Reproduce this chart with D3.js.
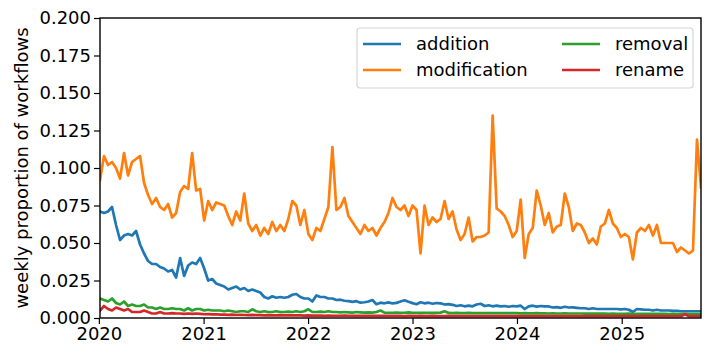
<!DOCTYPE html>
<html>
<head>
<meta charset="utf-8">
<script src="https://cdn.jsdelivr.net/npm/d3@7"></script>
<style>
  body { margin: 0; background: #fff; }
  svg text { font-family: "DejaVu Sans", sans-serif; fill: #000; }
</style>
</head>
<body>
<script>
// biweekly samples, first one on 2020-01-05
const startDate = '2020-01-05';
const stepDays = 14;

const addition = [
  0.071, 0.070, 0.071, 0.074, 0.062, 0.052, 0.055, 0.056, 0.055, 0.058,
  0.049, 0.043, 0.038, 0.036, 0.036, 0.034, 0.033, 0.031, 0.032, 0.027,
  0.040, 0.028, 0.035, 0.037, 0.036, 0.040, 0.033, 0.025, 0.026, 0.023,
  0.022, 0.021, 0.019, 0.020, 0.021, 0.019, 0.020, 0.018, 0.019, 0.018,
  0.017, 0.014, 0.013, 0.0145, 0.0135, 0.014, 0.0135, 0.014, 0.0155, 0.016,
  0.014, 0.013, 0.013, 0.011, 0.015, 0.014, 0.014, 0.013, 0.013, 0.012,
  0.0122, 0.0115, 0.0112, 0.0108, 0.0112, 0.0102, 0.0105, 0.011, 0.012, 0.0092,
  0.0102, 0.0098, 0.0104, 0.0097, 0.0101, 0.011, 0.0118, 0.0108, 0.0099, 0.0092,
  0.0105, 0.0098, 0.0102, 0.0095, 0.010, 0.0098, 0.009, 0.0093, 0.0088, 0.008,
  0.0085, 0.0078, 0.0082, 0.0078, 0.009, 0.0095, 0.008, 0.0085, 0.0078, 0.0082,
  0.0078, 0.008, 0.0075, 0.008, 0.0078, 0.0082, 0.006, 0.0078, 0.0082, 0.0076,
  0.008, 0.0078, 0.0077, 0.007, 0.0072, 0.0068, 0.0075, 0.007, 0.0071, 0.0068,
  0.0065, 0.0065, 0.006, 0.0065, 0.006, 0.006, 0.006, 0.006, 0.006, 0.006,
  0.0058, 0.006, 0.0055, 0.004, 0.006, 0.0058, 0.0055, 0.0055, 0.005, 0.0055,
  0.005, 0.005, 0.005, 0.0048, 0.0048, 0.0045, 0.0045, 0.0045, 0.0045, 0.0045,
  0.0045
];

const modification = [
  0.092, 0.108, 0.102, 0.104, 0.100, 0.093, 0.110, 0.095, 0.104, 0.106,
  0.108, 0.090, 0.082, 0.076, 0.080, 0.074, 0.072, 0.076, 0.067, 0.070,
  0.084, 0.088, 0.086, 0.110, 0.085, 0.086, 0.065, 0.078, 0.072, 0.077,
  0.076, 0.075, 0.068, 0.062, 0.071, 0.065, 0.083, 0.063, 0.058, 0.062,
  0.055, 0.060, 0.056, 0.064, 0.058, 0.062, 0.058, 0.066, 0.078, 0.075,
  0.062, 0.072, 0.056, 0.052, 0.060, 0.058, 0.066, 0.074, 0.114, 0.072,
  0.074, 0.080, 0.068, 0.064, 0.060, 0.056, 0.062, 0.058, 0.060, 0.055,
  0.060, 0.064, 0.070, 0.080, 0.074, 0.072, 0.075, 0.068, 0.075, 0.072,
  0.043, 0.075, 0.062, 0.067, 0.064, 0.066, 0.078, 0.066, 0.071, 0.059,
  0.052, 0.056, 0.067, 0.051, 0.054, 0.054, 0.055, 0.057, 0.135, 0.073,
  0.071, 0.068, 0.062, 0.054, 0.058, 0.079, 0.040, 0.056, 0.060, 0.085,
  0.075, 0.062, 0.070, 0.057, 0.061, 0.062, 0.083, 0.074, 0.058, 0.063,
  0.062, 0.057, 0.050, 0.053, 0.049, 0.061, 0.063, 0.072, 0.063, 0.060,
  0.054, 0.056, 0.054, 0.039, 0.057, 0.060, 0.058, 0.062, 0.055, 0.062,
  0.050, 0.050, 0.050, 0.050, 0.044, 0.047, 0.045, 0.043, 0.045, 0.119,
  0.087
];

const removal = [
  0.013, 0.012, 0.011, 0.013, 0.010, 0.009, 0.011, 0.008, 0.009, 0.008,
  0.008, 0.009, 0.007, 0.007, 0.006, 0.007, 0.006, 0.006, 0.0065, 0.006,
  0.006, 0.005, 0.0065, 0.005, 0.006, 0.006, 0.005, 0.0055, 0.005, 0.005,
  0.005, 0.0045, 0.005, 0.0045, 0.004, 0.0045, 0.0045, 0.004, 0.0058, 0.0045,
  0.004, 0.0045, 0.004, 0.004, 0.0045, 0.004, 0.004, 0.0042, 0.004, 0.0045,
  0.004, 0.0045, 0.0058, 0.004, 0.004, 0.0042, 0.004, 0.0045, 0.004, 0.004,
  0.0038, 0.004, 0.0038, 0.0036, 0.004, 0.0038, 0.0036, 0.0038, 0.0036, 0.004,
  0.005, 0.0036, 0.0035, 0.0035, 0.0036, 0.0035, 0.0035, 0.0038, 0.0035, 0.0034,
  0.0035, 0.0034, 0.0034, 0.0035, 0.0034, 0.0036, 0.0045, 0.0034, 0.0033, 0.0034,
  0.0033, 0.0033, 0.0034, 0.0033, 0.0033, 0.0032, 0.0033, 0.0033, 0.0032, 0.0033,
  0.0032, 0.0032, 0.0033, 0.0032, 0.0032, 0.0031, 0.0032, 0.0031, 0.0031, 0.0032,
  0.0031, 0.0031, 0.003, 0.0031, 0.003, 0.003, 0.0031, 0.003, 0.003, 0.003,
  0.003, 0.0029, 0.003, 0.0029, 0.0029, 0.003, 0.0029, 0.0028, 0.0029, 0.0028,
  0.0028, 0.0028, 0.0029, 0.0026, 0.0028, 0.0028, 0.0027, 0.0028, 0.0027, 0.0027,
  0.0027, 0.0027, 0.0026, 0.0027, 0.0026, 0.0026, 0.0027, 0.0026, 0.0026, 0.0026,
  0.0026
];

const rename = [
  0.005, 0.008, 0.006, 0.005, 0.007, 0.006, 0.005, 0.006, 0.004, 0.004,
  0.004, 0.005, 0.004, 0.003, 0.003, 0.004, 0.003, 0.003, 0.0032, 0.003,
  0.003, 0.0028, 0.003, 0.0027, 0.003, 0.0028, 0.0025, 0.0026, 0.0024, 0.0025,
  0.0022, 0.0023, 0.0021, 0.0022, 0.002, 0.0021, 0.002, 0.0019, 0.0021, 0.0019,
  0.0019, 0.0018, 0.0019, 0.0018, 0.0018, 0.0019, 0.0018, 0.0017, 0.0018, 0.0017,
  0.0017, 0.0016, 0.0018, 0.0016, 0.0016, 0.0016, 0.0015, 0.0016, 0.0015, 0.0015,
  0.0015, 0.0016, 0.0015, 0.0014, 0.0015, 0.0014, 0.0015, 0.0014, 0.0014, 0.0015,
  0.0014, 0.0014, 0.0014, 0.0015, 0.0014, 0.0014, 0.0013, 0.0014, 0.0014, 0.0013,
  0.0014, 0.0013, 0.0013, 0.0014, 0.0013, 0.0013, 0.0013, 0.0014, 0.0013, 0.0013,
  0.0013, 0.0013, 0.0012, 0.0013, 0.0013, 0.0012, 0.0013, 0.0013, 0.0012, 0.0013,
  0.0012, 0.0012, 0.0013, 0.0012, 0.0012, 0.0013, 0.0012, 0.0012, 0.0012, 0.0013,
  0.0012, 0.0012, 0.0012, 0.0012, 0.0013, 0.0012, 0.0012, 0.0012, 0.0012, 0.0012,
  0.0012, 0.0012, 0.0012, 0.0012, 0.0012, 0.0012, 0.0012, 0.0012, 0.0012, 0.0012,
  0.0012, 0.0012, 0.0012, 0.0012, 0.0012, 0.0012, 0.0012, 0.0012, 0.0012, 0.0012,
  0.0012, 0.0012, 0.0012, 0.0012, 0.0012, 0.0012, 0.0025, 0.0012, 0.0012, 0.0012,
  0.0012
];

const yTicks = [0, 0.025, 0.05, 0.075, 0.1, 0.125, 0.15, 0.175, 0.2];
const xTickYears = [2020, 2021, 2022, 2023, 2024, 2025];

const seriesNames = ['addition', 'modification', 'removal', 'rename'];
const seriesValues = [addition, modification, removal, rename];
const colors = ['#1f77b4', '#ff7f0e', '#2ca02c', '#d62728'];

const w = 715;
const h = 361;
const m = {left: 100, right: 14, top: 18, bottom: 43};
const fontSize = '18px';

const t0 = d3.timeParse('%Y-%m-%d')(startDate);
const dates = addition.map((d, i) => d3.timeDay.offset(t0, i * stepDays));

const xScale = d3.scaleTime()
                 .domain(d3.extent(dates))
                 .range([m.left, w - m.right]);
const yScale = d3.scaleLinear()
                 .domain([0, 0.2])
                 .range([h - m.bottom, m.top]);

const svg = d3.select('body').append('svg')
              .attr('width', w)
              .attr('height', h);

svg.append('defs').append('clipPath').attr('id', 'plot-clip')
   .append('rect')
   .attr('x', m.left).attr('y', m.top)
   .attr('width', w - m.left - m.right)
   .attr('height', h - m.top - m.bottom);

const line = d3.line()
               .x((d, i) => xScale(dates[i]))
               .y((d) => yScale(d));

svg.append('g')
   .attr('clip-path', 'url(#plot-clip)')
   .selectAll('path')
   .data(seriesValues)
   .enter()
   .append('path')
   .attr('d', (d) => line(d))
   .attr('fill', 'none')
   .attr('stroke', (d, i) => colors[i])
   .attr('stroke-width', 2.7)
   .attr('stroke-linejoin', 'round')
   .attr('stroke-linecap', 'square');

const xAxis = d3.axisBottom(xScale)
                .tickValues(xTickYears.map((y) => new Date(y, 0, 1)))
                .tickFormat(d3.timeFormat('%Y'))
                .tickSizeOuter(0)
                .tickSize(6)
                .tickPadding(3);
const yAxis = d3.axisLeft(yScale)
                .tickValues(yTicks)
                .tickFormat(d3.format('.3f'))
                .tickSizeOuter(0)
                .tickSize(6)
                .tickPadding(3);

const gx = svg.append('g')
              .attr('transform', 'translate(0,' + (h - m.bottom) + ')')
              .call(xAxis);
const gy = svg.append('g')
              .attr('transform', 'translate(' + m.left + ',0)')
              .call(yAxis);

[gx, gy].forEach((g) => {
  g.select('.domain').remove();
  g.selectAll('line').attr('stroke', '#000').attr('stroke-width', 1.2);
  g.selectAll('text').style('font-size', fontSize).attr('fill', '#000');
});

// frame
svg.append('rect')
   .attr('x', m.left).attr('y', m.top)
   .attr('width', w - m.left - m.right)
   .attr('height', h - m.top - m.bottom)
   .attr('fill', 'none')
   .attr('stroke', '#000')
   .attr('stroke-width', 1.4);

svg.append('text')
   .text('weekly proportion of workflows')
   .attr('transform', 'translate(28,' + ((m.top + h - m.bottom) / 2) + ')rotate(-90)')
   .attr('text-anchor', 'middle')
   .style('font-size', fontSize);

// legend, two columns
const legend = svg.append('g');
legend.append('rect')
      .attr('x', 357).attr('y', 28)
      .attr('width', 336).attr('height', 60)
      .attr('rx', 3)
      .attr('fill', '#fff').attr('fill-opacity', 0.8)
      .attr('stroke', '#d6d6d6').attr('stroke-width', 1.2);

const legendCols = [363, 562];
const legendRows = [44, 70];
seriesNames.forEach((name, i) => {
  const lx = legendCols[Math.floor(i / 2)];
  const ly = legendRows[i % 2];
  legend.append('line')
        .attr('x1', lx).attr('x2', lx + 38)
        .attr('y1', ly).attr('y2', ly)
        .attr('stroke', colors[i]).attr('stroke-width', 2.7);
  legend.append('text')
        .text(name)
        .attr('x', lx + 53).attr('y', ly + 6)
        .style('font-size', fontSize);
});
</script>
</body>
</html>
